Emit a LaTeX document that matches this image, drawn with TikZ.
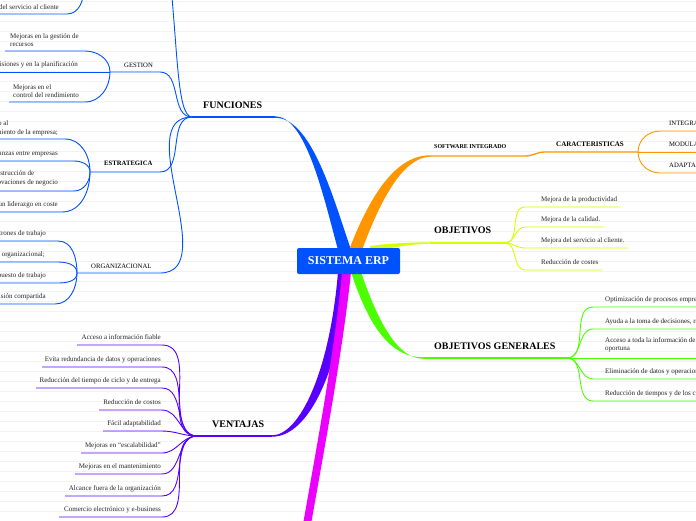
\documentclass[tikz,border=0pt]{standalone}
\usepackage{fontspec}
\setmainfont{Liberation Serif}
\usetikzlibrary{calc}
\definecolor{cblue}{RGB}{0,82,255}
\definecolor{corange}{RGB}{255,150,0}
\definecolor{cyellow}{RGB}{214,255,0}
\definecolor{cgreen}{RGB}{76,255,0}
\definecolor{cpurple}{RGB}{88,0,255}
\definecolor{cmag}{RGB}{236,0,255}
\tikzset{
  leaftxt/.style={font=\fontsize{7}{8.5}\selectfont, inner sep=0pt, align=left, text=black!85},
  maintxt/.style={font=\fontsize{10}{12}\selectfont\bfseries, inner sep=0pt},
  subtxt/.style={font=\fontsize{6.7}{8}\selectfont, inner sep=0pt},
  subbold/.style={font=\fontsize{6.7}{8}\selectfont\bfseries, inner sep=0pt},
  conn/.style={line width=0.9pt},
  mainline/.style={line width=1.3pt},
  paper/.style={black!5, line width=0.5pt},
  erpbox/.style={fill=cblue, rounded corners=2pt, text=white, font=\fontsize{12}{14}\selectfont\bfseries, minimum width=103pt, minimum height=26pt, inner sep=0pt}
}
\begin{document}
\begin{tikzpicture}[x=1pt,y=-1pt]
\useasboundingbox (0,0) rectangle (696,520);
\fill[white] (0,0) rectangle (696,520);
\clip (0,0) rectangle (696,520);
\foreach \k in {0,...,51} \draw[paper] (0,1.5+10*\k) -- (696,1.5+10*\k);

% ---------- key coordinates ----------
\coordinate (ctr) at (348.5,261);
\coordinate (fh) at (192,117);  \coordinate (fe) at (275,117);
\coordinate (sws) at (430,156); \coordinate (swe) at (525,156);
\coordinate (cas) at (545,152); \coordinate (cah) at (638,152);
\coordinate (ob) at (430,243);  \coordinate (oh) at (505,243);
\coordinate (gb) at (423,358);  \coordinate (gh) at (567,358);
\coordinate (vh) at (197,436);  \coordinate (ve) at (272,436);
\coordinate (mg) at (306,530);

% ---------- thick main connectors ----------
% blue (FUNCIONES)
\fill[cblue] (338,250) .. controls (322,190) and (305,116.3) .. ($(fe)+(0,-0.7)$) -- ($(fe)+(0,0.7)$) .. controls (310,117.7) and (331,190) .. (351,250) -- cycle;
% orange (SOFTWARE INTEGRADO)
\fill[corange] (349,250) .. controls (372,190) and (398,155.3) .. ($(sws)+(0,-0.7)$) -- ($(sws)+(0,0.7)$) .. controls (404,157.5) and (382,196) .. (362,250) -- cycle;
% yellow (OBJETIVOS)
\fill[cyellow] (370,246) .. controls (390,243.3) and (410,242.4) .. ($(ob)+(0,-0.7)$) -- ($(ob)+(0,0.7)$) .. controls (410,244) and (390,247.5) .. (370,253) -- cycle;
% green (OBJETIVOS GENERALES)
\fill[cgreen] (351,272) .. controls (370,330) and (392,357.3) .. ($(gb)+(0,-0.7)$) -- ($(gb)+(0,0.7)$) .. controls (398,359) and (378,322) .. (361,272) -- cycle;
% purple (VENTAJAS)
\fill[cpurple] (338,272) .. controls (330,370) and (300,435.3) .. ($(ve)+(0,-0.7)$) -- ($(ve)+(0,0.7)$) .. controls (308,437) and (340,372) .. (349,272) -- cycle;
% magenta (off the page)
\fill[cmag] (342,272) .. controls (335,350) and (316,450) .. ($(mg)+(-4,0)$) -- ($(mg)+(4,0)$) .. controls (324,450) and (343,350) .. (351,272) -- cycle;

% ---------- central node ----------
\node[erpbox] (erp) at (ctr) {SISTEMA ERP};

% ---------- FUNCIONES ----------
\draw[cblue, mainline] (fh) -- (fe);
\node[maintxt, anchor=base west] (funciones) at (203,108.5) {FUNCIONES};
\coordinate (tb) at (168,-40);
\draw[cblue, conn] (fh) .. controls (176,117) and (178,40) .. (tb);
% top leaf (above the page)
\coordinate (tl) at (0,14); \coordinate (tle) at (67,14); \coordinate (tlh) at (84,-12);
\draw[cblue, conn] (tl) -- (tle) to[out=0,in=-90] (tlh);
\node[leaftxt, anchor=base east] (tlt) at (59,9) {Mejora del servicio al cliente};

% GESTION
\coordinate (gsh) at (110,72); \coordinate (gse) at (160,72);
\draw[cblue, conn] (fh) to[out=180,in=0] (gse) -- (gsh);
\node[subtxt, anchor=base west] (gestion) at (124,67.5) {GESTION};
\coordinate (g1s) at (5,51);  \coordinate (g1e) at (85,51);
\coordinate (g2s) at (0,72);
\coordinate (g3s) at (9,102); \coordinate (g3e) at (85,102);
\draw[cblue, conn] (g1s) -- (g1e) to[out=0,in=90] (gsh);
\draw[cblue, conn] (g2s) -- (gsh);
\draw[cblue, conn] (g3s) -- (g3e) to[out=0,in=-90] (gsh);
\node[leaftxt, anchor=north west] (g1t) at (10,33) {Mejoras en la gestión de\\recursos};
\node[leaftxt, anchor=base east] (g2t) at (78,66.5) {Mejoras en la toma de decisiones y en la planificación};
\node[leaftxt, anchor=north west] (g3t) at (13,84) {Mejoras en el\\control del rendimiento};

% ESTRATEGICA
\coordinate (esh) at (90,172); \coordinate (ese) at (160,172);
\draw[cblue, conn] (fh) to[out=180,in=0] (ese) -- (esh);
\node[subbold, anchor=base west] (estrategica) at (104,165.5) {ESTRATEGICA};
\coordinate (e1s) at (0,139); \coordinate (e1e) at (65,139);
\coordinate (e2s) at (0,161); \coordinate (e2e) at (74,161);
\coordinate (e3s) at (0,191); \coordinate (e3e) at (74,191);
\coordinate (e4s) at (0,212); \coordinate (e4e) at (62,212);
\draw[cblue, conn] (e1s) -- (e1e) to[out=0,in=90] (esh);
\draw[cblue, conn] (e2s) -- (e2e) to[out=0,in=90] (esh);
\draw[cblue, conn] (e3s) -- (e3e) to[out=0,in=-90] (esh);
\draw[cblue, conn] (e4s) -- (e4e) to[out=0,in=-90] (esh);
\node[leaftxt, anchor=north east] (e1t) at (58,120.5) {Apoyo al\\crecimiento de la empresa;};
\node[leaftxt, anchor=base east] (e2t) at (58,155.5) {Alianzas entre empresas};
\node[leaftxt, anchor=north east] (e3t) at (58,170.5) {Construcción de\\innovaciones de negocio};
\node[leaftxt, anchor=base east] (e4t) at (58,206.5) {Crear un liderazgo en coste};

% ORGANIZACIONAL
\coordinate (orh) at (77,273); \coordinate (ore) at (160,273);
\draw[cblue, conn] (fh) to[out=180,in=0] (ore) -- (orh);
\node[subtxt, anchor=base west] (organizacional) at (91,268.5) {ORGANIZACIONAL};
\coordinate (r1s) at (0,241); \coordinate (r1e) at (58,241);
\coordinate (r2s) at (0,262); \coordinate (r2e) at (58,262);
\coordinate (r3s) at (0,283); \coordinate (r3e) at (58,283);
\coordinate (r4s) at (0,304); \coordinate (r4e) at (55,304);
\draw[cblue, conn] (r1s) -- (r1e) to[out=0,in=90] (orh);
\draw[cblue, conn] (r2s) -- (r2e) to[out=0,in=90] (orh);
\draw[cblue, conn] (r3s) -- (r3e) to[out=0,in=-90] (orh);
\draw[cblue, conn] (r4s) -- (r4e) to[out=0,in=-90] (orh);
\node[leaftxt, anchor=base east] (r1t) at (46,235) {Nuevos patrones de trabajo};
\node[leaftxt, anchor=base east] (r2t) at (45,256) {Nueva estructura organizacional;};
\node[leaftxt, anchor=base east] (r3t) at (46,277) {Rediseño del puesto de trabajo};
\node[leaftxt, anchor=base east] (r4t) at (46,298.5) {Visión compartida};

% ---------- SOFTWARE INTEGRADO / CARACTERISTICAS ----------
\draw[corange, mainline] (sws) -- (swe) to[out=0,in=180] (cas) -- (cah);
\node[subbold, font=\fontsize{6}{7}\selectfont\bfseries, anchor=base west] (software) at (434,148.5) {SOFTWARE INTEGRADO};
\node[subbold, font=\fontsize{7}{8}\selectfont\bfseries, anchor=base west] (caract) at (556,146.5) {CARACTERISTICAS};
\coordinate (c1s) at (660,131); \coordinate (c1e) at (700,131);
\coordinate (c2e) at (700,152);
\coordinate (c3s) at (660,173); \coordinate (c3e) at (700,173);
\draw[corange, conn] (cah) to[out=90,in=180] (c1s) -- (c1e);
\draw[corange, conn] (cah) -- (c2e);
\draw[corange, conn] (cah) to[out=-90,in=180] (c3s) -- (c3e);
\node[subtxt, anchor=base west] (c1t) at (669,125.5) {INTEGRACION};
\node[subtxt, anchor=base west] (c2t) at (669,146.5) {MODULARIDAD};
\node[subtxt, anchor=base west] (c3t) at (669,167.5) {ADAPTABILIDAD};

% ---------- OBJETIVOS ----------
\draw[cyellow, mainline] (ob) -- (oh);
\node[maintxt, anchor=base west] (objetivos) at (434,233.5) {OBJETIVOS};
\foreach \yy/\xe/\t [count=\i] in {207/620/Mejora de la productividad, 227/604/Mejora de la calidad., 248/628/Mejora del servicio al cliente., 270/602/Reducción de costes}{
  \coordinate (oy\i s) at (525,\yy);
  \coordinate (oy\i e) at (\xe,\yy);
  \draw[cyellow, conn] (oh) to[out=0,in=180] (oy\i s) -- (oy\i e);
  \node[leaftxt, anchor=base west] (oyt\i) at (541,\yy-6) {\t};
}

% ---------- OBJETIVOS GENERALES ----------
\draw[cgreen, mainline] (gb) -- (gh);
\node[maintxt, anchor=base west] (objgen) at (434,349.5) {OBJETIVOS GENERALES};
\foreach \yy/\t [count=\i] in {307/Optimización de procesos empresariales, 329/Ayuda a la toma de decisiones{,} rápida, 379/Eliminación de datos y operaciones innecesarias, 401/Reducción de tiempos y de los costes}{
  \coordinate (gl\i s) at (593,\yy);
  \coordinate (gl\i e) at (700,\yy);
  \draw[cgreen, conn] (gh) to[out=0,in=180] (gl\i s) -- (gl\i e);
  \node[leaftxt, anchor=base west] (glt\i) at (605,\yy-6) {\t};
}
\coordinate (gl5e) at (700,358);
\draw[cgreen, conn] (gh) -- (gl5e);
\node[leaftxt, anchor=north west] (glt5) at (605,337) {Acceso a toda la información de forma\\oportuna};

% ---------- VENTAJAS ----------
\draw[cpurple, mainline] (vh) -- (ve);
\node[maintxt, anchor=base west] (ventajas) at (212,427.5) {VENTAJAS};
\foreach \yy/\xl/\t [count=\i] in {345/77/Acceso a información fiable, 367/42/Evita redundancia de datos y operaciones, 388/36/Reducción del tiempo de ciclo y de entrega, 410/99/Reducción de costos, 431/103/Fácil adaptabilidad, 453/81/Mejoras en “escalabilidad”, 474/75/Mejoras en el mantenimiento, 496/65/Alcance fuera de la organización, 517/59/Comercio electrónico y e-business}{
  \coordinate (v\i s) at (\xl,\yy);
  \coordinate (v\i e) at (162,\yy);
  \draw[cpurple, conn] (v\i s) -- (v\i e) to[out=0,in=180] (vh);
  \node[leaftxt, anchor=base east] (vt\i) at (161,\yy-6) {\t};
}
\end{tikzpicture}
\end{document}
